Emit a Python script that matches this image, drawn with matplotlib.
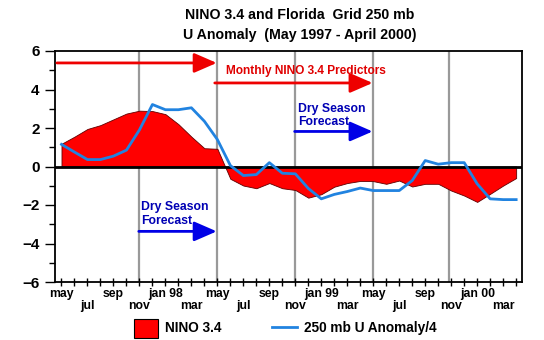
import matplotlib
matplotlib.use('Agg')
import matplotlib.pyplot as plt
from matplotlib.patches import Rectangle
from matplotlib.lines import Line2D
import numpy as np

plt.rcParams['font.family'] = ['Liberation Sans', 'DejaVu Sans']
plt.rcParams['font.weight'] = 'bold'

# monthly series, May 1997 .. April 2000
nino34 = [1.18, 1.55, 1.95, 2.15, 2.45, 2.75, 2.90, 2.88, 2.72, 2.20, 1.55, 0.95,
          0.92, -0.64, -0.99, -1.13, -0.86, -1.13, -1.22, -1.62, -1.44, -1.05, -0.86, -0.75,
          -0.76, -0.90, -0.73, -1.04, -0.90, -0.90, -1.25, -1.51, -1.84, -1.42, -0.99, -0.60]
u250 = [1.15, 0.75, 0.36, 0.36, 0.54, 0.85, 1.90, 3.22, 2.95, 2.95, 3.05, 2.35,
        1.40, 0.05, -0.47, -0.42, 0.20, -0.35, -0.38, -1.14, -1.68, -1.45, -1.30, -1.12,
        -1.25, -1.25, -1.25, -0.73, 0.31, 0.12, 0.20, 0.20, -0.90, -1.68, -1.72, -1.72]
month_labels = ['may', 'jul', 'sep', 'nov', 'jan 98', 'mar', 'may', 'jul', 'sep',
                'nov', 'jan 99', 'mar', 'may', 'jul', 'sep', 'nov', 'jan 00', 'mar']
season_marks = [5.95, 11.95, 17.95, 23.95, 29.85]

months = np.arange(len(nino34))

fig = plt.figure(figsize=(5.44, 3.40), dpi=100)
ax = fig.add_axes([55 / 544, 1 - 282 / 340, 467 / 544, 231 / 340])

ax.fill_between(months, nino34, 0, facecolor='#ff0000', edgecolor='#600000', linewidth=0.6, zorder=2)
ax.plot(months, u250, color='#2183e0', linewidth=2.0, zorder=4)
ax.axhline(0, color='black', linewidth=2.0, zorder=3)
for m in season_marks:
    ax.axvline(m, color='#999999', linewidth=1.6, zorder=1)

ax.set_xlim(-0.5, 35.45)
ax.set_ylim(-6, 6)
ax.set_yticks(np.arange(-6, 7, 2))
ax.set_yticks(np.arange(-5, 6, 2), minor=True)

# every month gets a tick, every second month a label, on alternating rows
xlabels = []
for i in months:
    if i % 2:
        xlabels.append('')
    else:
        lab = month_labels[i // 2]
        xlabels.append(lab if (i // 2) % 2 == 0 else '\n' + lab)
ax.set_xticks(months)
ax.set_xticklabels(xlabels, linespacing=1.05)
ax.tick_params(axis='y', which='major', length=7, width=1, labelsize=11, pad=4)
ax.tick_params(axis='y', which='minor', length=4, width=1)
ax.tick_params(axis='x', which='major', direction='inout', length=6, width=1,
               labelsize=8.8, pad=1)
for s in ax.spines.values():
    s.set_linewidth(1.3)

# forecast arrows
def arrow(x0, x1, y, color, lw=2.0):
    ax.annotate('', xy=(x1, y), xytext=(x0, y),
                arrowprops=dict(arrowstyle='-|>,head_length=1.15,head_width=0.5',
                                color=color, lw=lw, shrinkA=0, shrinkB=0,
                                mutation_scale=12), zorder=5)

red_arrow = '#ee0000'
blue_arrow = '#0000e6'
arrow(-0.35, 11.95, 5.38, red_arrow)
arrow(11.8, 23.95, 4.34, red_arrow)
arrow(23.8, 35.5, 3.65, red_arrow)
arrow(5.95, 11.95, -3.37, blue_arrow)
arrow(17.95, 23.95, 1.82, blue_arrow)
arrow(29.8, 35.5, 1.82, blue_arrow)

ax.text(12.7, 4.97, 'Monthly NINO 3.4 Predictors', color='#e00000', fontsize=8.6,
        va='center', ha='left')
ax.text(6.1, -2.45, 'Dry Season\nForecast', color='#0000b4', fontsize=8.8,
        va='center', ha='left', linespacing=1.2)
ax.text(18.2, 2.65, 'Dry Season\nForecast', color='#0000b4', fontsize=8.8,
        va='center', ha='left', linespacing=1.2)

fig.text(300 / 544, 1 - 15 / 340, 'NINO 3.4 and Florida  Grid 250 mb',
         ha='center', va='center', fontsize=10.2)
fig.text(300 / 544, 1 - 35 / 340, 'U Anomaly  (May 1997 - April 2000)',
         ha='center', va='center', fontsize=10.2)

# legend
fig.add_artist(Rectangle((134 / 544, 1 - 338 / 340), 24 / 544, 19 / 340,
                         transform=fig.transFigure, facecolor='#ff0000',
                         edgecolor='black', linewidth=0.8))
fig.text(165 / 544, 1 - 328 / 340, 'NINO 3.4', ha='left', va='center', fontsize=9.8)
fig.add_artist(Line2D([272 / 544, 297 / 544], [1 - 327 / 340, 1 - 327 / 340],
                      transform=fig.transFigure, color='#2183e0', linewidth=2))
fig.text(304 / 544, 1 - 328 / 340, '250 mb U Anomaly/4', ha='left', va='center', fontsize=9.8)

fig.savefig('out.png', dpi=100)
